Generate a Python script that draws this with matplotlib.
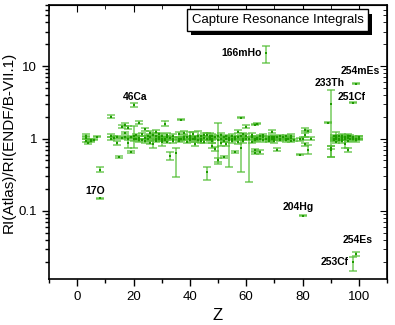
import matplotlib
matplotlib.use("Agg")
import matplotlib.pyplot as plt
import matplotlib.patheffects as pe
from matplotlib.ticker import MultipleLocator, LogLocator, NullFormatter, FixedLocator, FixedFormatter
import numpy as np

plt.rcParams['font.family'] = ['Liberation Sans', 'DejaVu Sans']

# Z, RI ratio, lower and upper end of the error bar
z = [3, 3, 3, 4, 5, 5, 6, 7, 8, 8,
     12, 12, 12, 13, 14, 14, 15, 16, 16, 17, 17, 17, 18, 18, 18, 19, 19,
     20, 20, 20, 21, 22, 22, 23, 23, 24, 24, 25, 25, 26, 26, 27, 27,
     28, 28, 28, 29, 29, 30, 30, 30, 31, 31, 31, 32, 32, 33, 34, 34,
     35, 36, 36, 37, 37, 38, 38, 39, 39, 40, 40, 41, 42, 42, 43, 43,
     44, 44, 45, 45, 46, 46, 46, 47, 47, 48, 48, 48, 49, 49, 50, 50,
     51, 51, 52, 52, 52, 53, 53, 54, 55, 55, 56, 56, 57, 57, 58, 58,
     59, 59, 60, 60, 61, 62, 62, 63, 63, 63, 63, 64, 64, 65, 65, 66, 66,
     67, 67, 68, 68, 69, 69, 70, 70, 71, 71, 72, 72, 73, 74, 74, 75,
     76, 76, 77, 79, 79, 80, 80, 81, 81, 81, 82, 82, 83,
     89, 90, 90, 90, 91, 91, 92, 92, 92, 92, 93, 93, 94, 94, 94,
     95, 95, 96, 96, 96, 97, 98, 98, 98, 99, 99, 99, 100, 100,
     21, 22, 24, 26, 28, 29, 30, 32, 33, 34, 36, 38, 40, 41, 42, 44, 45,
     47, 48, 50, 51, 53, 54, 55, 56, 57, 58, 59, 60, 62, 63, 64, 65, 66,
     68, 69, 70, 72, 74, 76, 91, 92, 93, 94, 95, 96, 97, 98, 99, 100]
ri = [1.10, 1.02, 0.93, 0.86, 0.92, 0.95, 0.96, 1.06, 0.37, 0.15,
      2.00, 1.10, 1.00, 1.03, 0.88, 1.05, 0.55, 1.46, 1.02, 1.56, 1.20, 1.05, 1.42, 0.88, 1.00, 0.66, 1.05,
      2.90, 1.07, 0.97, 1.00, 1.66, 1.03, 1.15, 0.95, 1.03, 1.35, 1.07, 0.97, 1.20, 0.88, 1.13, 0.85,
      1.00, 0.93, 1.25, 1.05, 0.97, 1.00, 1.10, 0.90, 1.60, 1.00, 0.95, 1.05, 0.90, 0.57, 1.00, 1.10,
      0.64, 1.00, 1.15, 1.83, 0.97, 1.00, 1.20, 1.05, 0.90, 0.95, 1.10, 1.00, 1.05, 0.85, 1.10, 0.95,
      1.00, 1.08, 0.90, 1.03, 0.34, 1.00, 1.12, 0.97, 1.08, 0.80, 1.00, 1.10, 0.72, 1.04, 0.95, 0.51,
      0.88, 1.00, 0.56, 1.05, 0.93, 1.00, 0.85, 0.95, 1.10, 1.00, 0.66, 1.05, 1.25, 0.90, 1.95, 0.73,
      1.00, 1.15, 1.46, 1.00, 0.97, 1.05, 0.90, 1.56, 0.70, 0.64, 1.00, 1.60, 1.03, 0.66, 1.00, 1.05, 0.95,
      15.0, 1.00, 1.05, 0.97, 1.25, 1.00, 1.00, 0.92, 0.70, 1.05, 1.00, 0.95, 1.05, 0.98, 1.08, 1.00,
      1.03, 0.93, 0.95, 0.97, 0.60, 0.086, 1.00, 1.33, 1.13, 0.83, 0.70, 1.29, 1.00,
      1.66, 3.00, 0.75, 0.70, 1.00, 0.95, 1.05, 1.00, 0.90, 1.10, 1.00, 0.95, 1.05, 0.92, 1.10,
      1.00, 0.85, 0.70, 1.03, 1.10, 1.00, 3.10, 0.0198, 0.97, 5.70, 0.0255, 1.00, 1.02, 0.98,
      1.12, 0.94, 0.92, 1.04, 1.08, 1.15, 0.96, 1.12, 1.02, 0.92, 0.93, 1.06, 1.02, 1.15, 0.98, 0.92, 1.13,
      1.03, 0.93, 1.08, 1.12, 1.07, 1.02, 0.93, 0.98, 1.04, 1.08, 0.93, 1.08, 1.12, 0.94, 0.97, 1.08, 1.12,
      0.93, 1.06, 1.04, 1.07, 0.94, 1.10, 1.08, 0.97, 1.07, 1.00, 1.06, 0.93, 1.07, 1.04, 0.94, 1.05]
lo = [1.05, 0.97, 0.89, 0.83, 0.90, 0.93, 0.94, 1.05, 0.34, 0.148,
      1.90, 1.06, 0.96, 0.99, 0.82, 1.01, 0.54, 1.40, 0.98, 1.50, 1.15, 1.01, 1.36, 0.75, 0.96, 0.64, 1.01,
      2.75, 0.75, 0.93, 0.96, 1.60, 0.99, 1.10, 0.91, 0.99, 1.28, 1.02, 0.93, 1.14, 0.84, 1.07, 0.75,
      0.96, 0.89, 1.19, 1.00, 0.93, 0.95, 1.05, 0.80, 1.50, 0.95, 0.91, 1.00, 0.86, 0.50, 0.95, 1.05,
      0.29, 0.95, 1.05, 1.80, 0.93, 0.95, 1.14, 1.00, 0.86, 0.90, 1.00, 0.96, 1.00, 0.80, 0.95, 0.90,
      0.95, 1.03, 0.86, 0.98, 0.27, 0.95, 1.06, 0.93, 0.95, 0.74, 0.95, 1.04, 0.68, 0.99, 0.44, 0.48,
      0.80, 0.95, 0.54, 1.00, 0.89, 0.95, 0.80, 0.40, 1.04, 0.95, 0.64, 1.00, 1.18, 0.85, 1.90, 0.35,
      0.95, 1.09, 1.40, 0.95, 0.25, 1.00, 0.86, 1.54, 0.68, 0.62, 0.95, 1.58, 0.98, 0.62, 0.95, 1.00, 0.90,
      11.0, 0.96, 1.00, 0.93, 1.20, 0.96, 0.95, 0.88, 0.67, 1.00, 0.96, 0.91, 1.00, 0.94, 1.03, 0.96,
      0.98, 0.89, 0.91, 0.92, 0.59, 0.085, 0.95, 1.27, 1.05, 0.79, 0.62, 1.25, 0.96,
      1.62, 0.55, 0.72, 0.55, 0.95, 0.91, 1.00, 0.95, 0.86, 1.00, 0.95, 0.91, 1.00, 0.88, 1.04,
      0.95, 0.75, 0.66, 0.98, 1.04, 0.95, 3.05, 0.0150, 0.93, 5.60, 0.0240, 0.95, 0.97, 0.94,
      1.07, 0.90, 0.86, 0.99, 1.03, 1.09, 0.92, 1.04, 0.97, 0.87, 0.89, 1.00, 0.98, 1.08, 0.94, 0.86, 1.07,
      0.99, 0.88, 1.03, 1.06, 1.02, 0.97, 0.88, 0.93, 0.99, 1.03, 0.88, 1.02, 1.06, 0.89, 0.92, 1.03, 1.07,
      0.89, 1.01, 0.99, 1.03, 0.90, 1.05, 1.03, 0.93, 1.02, 0.95, 1.01, 0.89, 1.02, 0.99, 0.90, 1.00]
hi = [1.16, 1.07, 0.97, 0.90, 0.94, 0.97, 0.98, 1.07, 0.40, 0.152,
      2.10, 1.15, 1.04, 1.07, 0.93, 1.09, 0.57, 1.52, 1.06, 1.62, 1.25, 1.09, 1.48, 1.02, 1.04, 0.68, 1.09,
      3.05, 1.50, 1.01, 1.04, 1.72, 1.07, 1.20, 0.99, 1.07, 1.42, 1.12, 1.01, 1.26, 0.92, 1.19, 0.95,
      1.04, 0.97, 1.31, 1.10, 1.01, 1.05, 1.15, 1.00, 1.72, 1.05, 0.99, 1.10, 0.94, 0.66, 1.05, 1.15,
      0.75, 1.05, 1.25, 1.86, 1.01, 1.05, 1.26, 1.10, 0.94, 1.00, 1.22, 1.04, 1.10, 0.90, 1.28, 1.00,
      1.05, 1.13, 0.94, 1.08, 0.40, 1.05, 1.18, 1.01, 1.20, 0.86, 1.05, 1.16, 0.76, 1.09, 1.65, 0.54,
      0.96, 1.05, 0.58, 1.10, 0.97, 1.05, 0.90, 1.10, 1.16, 1.05, 0.68, 1.10, 1.32, 0.95, 2.00, 0.97,
      1.05, 1.21, 1.52, 1.05, 1.05, 1.10, 0.94, 1.58, 0.72, 0.66, 1.05, 1.62, 1.08, 0.70, 1.05, 1.10, 1.00,
      19.0, 1.04, 1.10, 1.01, 1.30, 1.04, 1.05, 0.96, 0.73, 1.10, 1.04, 0.99, 1.10, 1.02, 1.13, 1.04,
      1.08, 0.97, 0.99, 1.02, 0.61, 0.087, 1.05, 1.40, 1.20, 0.87, 0.82, 1.33, 1.04,
      1.70, 4.70, 0.78, 0.78, 1.05, 0.99, 1.10, 1.05, 0.94, 1.22, 1.05, 0.99, 1.10, 0.96, 1.16,
      1.05, 0.95, 0.74, 1.08, 1.16, 1.05, 3.15, 0.0232, 1.01, 5.80, 0.0270, 1.05, 1.07, 1.02,
      1.17, 0.98, 0.98, 1.09, 1.13, 1.21, 1.00, 1.20, 1.07, 0.97, 0.97, 1.12, 1.06, 1.22, 1.02, 0.98, 1.19,
      1.07, 0.98, 1.13, 1.18, 1.12, 1.07, 0.98, 1.03, 1.09, 1.13, 0.98, 1.14, 1.18, 0.99, 1.02, 1.13, 1.17,
      0.97, 1.11, 1.09, 1.11, 0.98, 1.15, 1.13, 1.01, 1.12, 1.05, 1.11, 0.97, 1.12, 1.09, 0.98, 1.10]

# labelled nuclides: name, Z, RI ratio, text offset (points), horizontal alignment
lab_name = ['17O', '46Ca', '166mHo', '233Th', '254mEs', '251Cf', '204Hg', '254Es', '253Cf']
lab_z = [8, 20, 67, 90, 99, 98, 80, 99, 98]
lab_ri = [0.15, 2.90, 15.0, 3.00, 5.70, 3.10, 0.086, 0.0255, 0.0198]
lab_off = [(-3, 5), (1, 6), (-3, 0), (-1, 15), (3, 9), (-1, 4), (-3, 6), (1, 10), (-3, 0)]
lab_ha = ['center', 'center', 'right', 'center', 'center', 'center', 'center', 'center', 'right']

fig = plt.figure(figsize=(3.95, 3.25), dpi=100)
ax = fig.add_axes([0.124, 0.1415, 0.856, 0.8435])

ri_a = np.array(ri)
yerr = [ri_a - np.array(lo), np.array(hi) - ri_a]
ax.errorbar(z, ri, yerr=yerr, fmt='none', ecolor='#4cbb2c', elinewidth=1.2,
            capsize=2.8, capthick=1.2, alpha=0.7)
ax.plot(z, ri, 's', color='#1f9a00', markersize=1.8, markeredgewidth=0)

ax.set_yscale('log')
ax.set_xlim(-10, 110)
ax.set_ylim(0.0115, 70)

for name, xz, yr, off, ha in zip(lab_name, lab_z, lab_ri, lab_off, lab_ha):
    ax.annotate(name, (xz, yr), xytext=off, textcoords='offset points',
                ha=ha, va='center', fontsize=7.5, fontweight='bold')

ax.xaxis.set_major_locator(MultipleLocator(20))
ax.xaxis.set_minor_locator(MultipleLocator(10))
ax.yaxis.set_major_locator(FixedLocator([0.1, 1, 10]))
ax.yaxis.set_major_formatter(FixedFormatter(['0.1', '1', '10']))
ax.yaxis.set_minor_locator(LogLocator(base=10, subs=np.arange(2, 10)))
ax.yaxis.set_minor_formatter(NullFormatter())
ax.tick_params(which='major', direction='out', length=5, width=1, labelsize=9.5)
ax.tick_params(which='minor', direction='out', length=3, width=1)
for sp in ax.spines.values():
    sp.set_linewidth(1.2)

top = ax.secondary_xaxis('top')
top.xaxis.set_major_locator(MultipleLocator(20))
top.xaxis.set_minor_locator(MultipleLocator(10))
top.tick_params(which='both', direction='in', labeltop=False)
top.tick_params(which='major', length=5)
top.tick_params(which='minor', length=3)
right = ax.secondary_yaxis('right')
right.yaxis.set_major_locator(FixedLocator([0.1, 1, 10]))
right.yaxis.set_minor_locator(LogLocator(base=10, subs=np.arange(2, 10)))
right.tick_params(which='both', direction='in', labelright=False)
right.tick_params(which='major', length=5)
right.tick_params(which='minor', length=3)

ax.set_xlabel('Z', fontsize=12)
ax.set_ylabel('RI(Atlas)/RI(ENDF/B-VII.1)', fontsize=11, labelpad=2)

# title box with a drop shadow
title = ax.text(0.676, 0.945, 'Capture Resonance Integrals', transform=ax.transAxes,
                ha='center', va='center', fontsize=9.5, color='black',
                bbox=dict(boxstyle='square,pad=0.35', facecolor='white', edgecolor='black', linewidth=1))
title.get_bbox_patch().set_path_effects([
    pe.SimplePatchShadow(offset=(3, -3), shadow_rgbFace='black', alpha=1.0), pe.Normal()])

fig.savefig('out.png', dpi=100)
